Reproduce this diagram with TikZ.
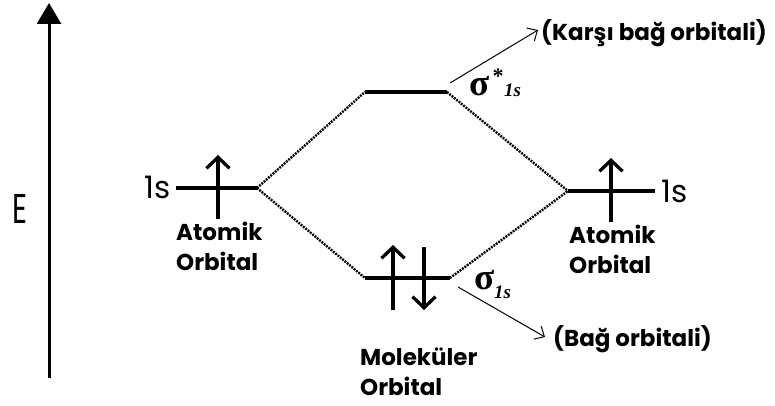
\documentclass[tikz,border=0pt]{standalone}
\usepackage{fontspec}
\setmainfont{Poppins}
\newfontfamily\greekfont{Liberation Serif}
\usetikzlibrary{arrows.meta}
\begin{document}
\begin{tikzpicture}[x=1pt,y=-1pt,
  level/.style={line width=3.2pt},
  link/.style={line width=2.4pt, dash pattern=on 1.9pt off 1.1pt},
  spin/.style={line width=3.3pt, -{Straight Barb[length=11pt,width=23pt]}},
  pointer/.style={line width=1pt, -{Straight Barb[length=8pt,width=15pt]}},
  lbl/.style={inner sep=0pt, font=\fontsize{23}{23}\selectfont\bfseries},
  lighttext/.style={inner sep=0pt, font=\fontsize{31}{31}\selectfont},
  sig/.style={inner sep=0pt, font=\greekfont\bfseries\fontsize{37}{37}\selectfont},
  sub/.style={inner sep=0pt, font=\greekfont\bfseries\itshape\fontsize{19}{19}\selectfont}]
\useasboundingbox (0,0) rectangle (775,406);

% energy axis
\coordinate (axb) at (49,378);
\coordinate (axt) at (49,3);
\draw[line width=3pt, -{Triangle[length=21pt,width=24pt]}] (axb) -- (axt);
\node[inner sep=0pt, anchor=base west] (E) at (12,223) {\resizebox{15pt}{29pt}{E}};

% energy levels
\coordinate (la) at (176,188); \coordinate (lb) at (257,188);
\coordinate (ra) at (568,191); \coordinate (rb) at (655,191);
\coordinate (ta) at (365,92);  \coordinate (tb) at (447,92);
\coordinate (ba) at (365,278); \coordinate (bb) at (450,278);
\draw[level] (la) -- (lb);
\draw[level] (ra) -- (rb);
\draw[level] (ta) -- (tb);
\draw[level] (ba) -- (bb);

% correlation lines
\draw[link] (lb) -- (ta);
\draw[link] (lb) -- (ba);
\draw[link] (tb) -- (ra);
\draw[link] (bb) -- (ra);

% electrons
\coordinate (e1a) at (218,219); \coordinate (e1b) at (218,155);
\coordinate (e2a) at (611,222); \coordinate (e2b) at (611,158);
\coordinate (e3a) at (393,310); \coordinate (e3b) at (393,245);
\coordinate (e4a) at (424,247); \coordinate (e4b) at (424,310);
\draw[spin] (e1a) -- (e1b);
\draw[spin] (e2a) -- (e2b);
\draw[spin] (e3a) -- (e3b);
\draw[spin] (e4a) -- (e4b);

% level labels
\node[lighttext, anchor=base east] (s1) at (171,198) {1s};
\node[lighttext, anchor=base west] (s2) at (661,202) {1s};

\node[lbl, anchor=base west] (a1) at (176,240) {Atomik};
\node[lbl, anchor=base west] (o1) at (176,270) {Orbital};
\node[lbl, anchor=base west] (a2) at (569,243) {Atomik};
\node[lbl, anchor=base west] (o2) at (569,273) {Orbital};
\node[lbl, anchor=base west] (m3) at (360,365) {Moleküler};
\node[lbl, anchor=base west] (o3) at (360,395) {Orbital};

% molecular orbital symbols
\node[sig, anchor=base west] (sa) at (469,96) {σ};
\node[sub, font=\greekfont\bfseries\fontsize{22}{22}\selectfont] (star) at (498,76) {*};
\node[sub, anchor=base west] (sas) at (504,97) {1s};
\node[sig, anchor=base west] (sb) at (474,289) {σ};
\node[sub, anchor=base west] (sbs) at (494,298) {1s};

% pointers to the orbital names
\coordinate (pa0) at (450,83); \coordinate (pa1) at (538,30);
\coordinate (pb0) at (458,287); \coordinate (pb1) at (545,337);
\draw[pointer] (pa0) -- (pa1);
\draw[pointer] (pb0) -- (pb1);
\node[lbl, anchor=base west] (anti) at (541,41) {(Karşı bağ orbitali)};
\node[lbl, anchor=base west] (bond) at (553,346) {(Bağ orbitali)};
\end{tikzpicture}
\end{document}
